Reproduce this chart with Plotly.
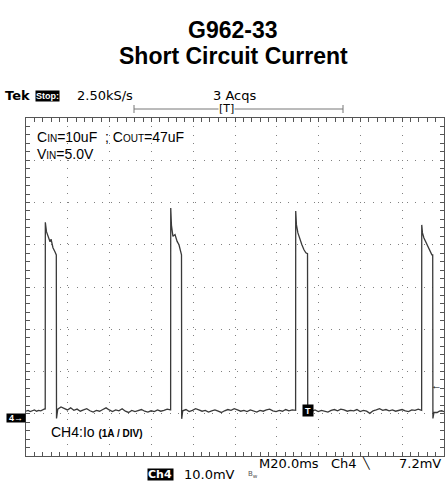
import numpy as np
import plotly.graph_objects as go

# ---------------- data (time in ms, current in A; 20 ms/div, 1 A/div) ----------------
x_range = [0.0, 200.0]
y_range = [-0.91, 7.09]
trigger_time = 134.8
trigger_mark_level = 0.17
trigger_level = 0.76

# baseline segments (start ms, end ms, sampled current values)
base0_span = [0.0, 9.1]
base0_vals = [0.15, 0.17, 0.14, 0.16, 0.18, 0.15, 0.17, 0.16, 0.19, 0.21]
base1_span = [15.2, 69.1]
base1_vals = [0.20, 0.25, 0.22, 0.18, 0.23, 0.17, 0.20, 0.15, 0.18, 0.21, 0.16, 0.13,
              0.17, 0.15, 0.19, 0.23, 0.18, 0.14, 0.18, 0.16, 0.21, 0.15, 0.12, 0.17,
              0.14, 0.16, 0.19, 0.15, 0.13, 0.16, 0.14, 0.18, 0.15, 0.17, 0.20, 0.18]
base2_span = [75.0, 128.9]
base2_vals = [0.16, 0.19, 0.14, 0.17, 0.21, 0.18, 0.15, 0.17, 0.13, 0.16, 0.18, 0.15,
              0.12, 0.16, 0.19, 0.17, 0.21, 0.18, 0.15, 0.17, 0.14, 0.18, 0.16, 0.13,
              0.17, 0.15, 0.18, 0.20, 0.16, 0.14, 0.17, 0.15, 0.19, 0.16, 0.18, 0.17]
base3_span = [135.2, 189.2]
base3_vals = [0.16, 0.15, 0.18, 0.14, 0.17, 0.15, 0.13, 0.17, 0.19, 0.16, 0.20, 0.18,
              0.15, 0.17, 0.16, 0.19, 0.14, 0.17, 0.15, 0.10, 0.16, 0.18, 0.21, 0.17,
              0.19, 0.16, 0.18, 0.15, 0.17, 0.19, 0.16, 0.14, 0.18, 0.17, 0.20, 0.17]
base4_span = [196.7, 200.0]
base4_vals = [0.12, 0.15, 0.16, 0.14]

# current pulses (short-circuit hiccup)
pulse1_t = [9.2, 9.25, 9.8, 10.5, 11.5, 12.0, 12.9, 13.9, 14.5, 14.6, 15.0]
pulse1_i = [0.19, 4.62, 4.40, 4.30, 4.16, 4.22, 4.02, 3.92, 3.85, -0.02, 0.12]
pulse2_t = [69.2, 69.25, 69.6, 70.3, 71.3, 72.3, 73.2, 74.4, 74.5, 74.9]
pulse2_i = [0.18, 4.96, 4.55, 4.29, 4.33, 4.17, 4.09, 3.85, -0.03, 0.12]
pulse3_t = [129.0, 129.05, 129.4, 130.1, 131.1, 132.0, 133.0, 133.9, 134.7, 134.8, 135.0]
pulse3_i = [0.17, 4.89, 4.56, 4.37, 4.21, 4.09, 3.97, 3.90, 3.88, 0.05, 0.14]
pulse4_t = [189.3, 189.35, 189.7, 190.4, 191.4, 192.3, 193.3, 194.2, 194.6, 194.7, 195.2]
pulse4_i = [0.17, 4.56, 4.37, 4.25, 4.14, 4.04, 3.97, 3.85, 3.85, -0.02, 0.12]


def seg(span, vals):
    return list(np.linspace(span[0], span[1], len(vals))), list(vals)


t_all, i_all = [], []
for tt, ii in [seg(base0_span, base0_vals), (pulse1_t, pulse1_i),
               seg(base1_span, base1_vals), (pulse2_t, pulse2_i),
               seg(base2_span, base2_vals), (pulse3_t, pulse3_i),
               seg(base3_span, base3_vals), (pulse4_t, pulse4_i),
               seg(base4_span, base4_vals)]:
    t_all += list(tt)
    i_all += list(ii)

# ---------------- figure ----------------
W, H = 445, 484
ML, MR, MT, MB = 26, 1, 118, 28
PW, PH = W - ML - MR, H - MT - MB


def px(x):
    return (x - ML) / PW


def py(y):
    return (H - MB - y) / PH


fig = go.Figure()
fig.add_trace(go.Scatter(x=t_all, y=i_all, mode="lines",
                         line=dict(color="#3a3a3a", width=1.3),
                         hoverinfo="skip", showlegend=False))

grid_col = "#808080"
tick_col = "#555"
fig.update_xaxes(range=x_range, tick0=0, dtick=20, showticklabels=False,
                 showgrid=True, gridcolor=grid_col, gridwidth=1,
                 griddash="1px,7.36px", zeroline=False,
                 showline=True, linecolor="#555", linewidth=1, mirror="allticks",
                 ticks="inside", ticklen=4, tickcolor=tick_col,
                 minor=dict(dtick=4, tick0=0, ticks="inside", ticklen=4,
                            tickcolor=tick_col, showgrid=False))
fig.update_yaxes(range=y_range, tick0=0.09, dtick=1, showticklabels=False,
                 showgrid=True, gridcolor=grid_col, gridwidth=1,
                 griddash="1px,7.46px", zeroline=False,
                 showline=True, linecolor="#555", linewidth=1, mirror="allticks",
                 ticks="inside", ticklen=4, tickcolor=tick_col,
                 minor=dict(dtick=0.2, tick0=0.09, ticks="inside", ticklen=4,
                            tickcolor=tick_col, showgrid=False))

ann = []
TF = "Liberation Sans, Arial, sans-serif"
SF = "DejaVu Sans, Verdana, sans-serif"


def A(text, x, y, size, font=TF, color="black", xanchor="left", bg=None, width=None, **kw):
    d = dict(text=text, x=px(x), y=py(y), xref="paper", yref="paper",
             xanchor=xanchor, yanchor="middle", showarrow=False,
             font=dict(family=font, size=size, color=color), borderpad=0)
    if bg:
        d["bgcolor"] = bg
    if width:
        d["width"] = width
        d["align"] = xanchor if xanchor != "center" else "center"
    d.update(kw)
    ann.append(d)


# titles
A("<b>G962-33</b>", 233, 30, 23, xanchor="center")
A("<b>Short Circuit Current</b>", 233, 56, 23, xanchor="center")

# scope header
A("<b>Tek</b>", 4, 95, 13, font=SF)
A("<b>Stop:</b>", 35, 96, 9, font=TF, color="white", bg="black")
A("2.50kS/s", 76, 95, 13, font=SF)
A("3 Acqs", 234, 95, 13, font=SF, xanchor="center")
A("[T]", 226, 109, 11, font=SF, xanchor="center", bg="white")

# in-plot labels
A("C<span style='font-size:10px'>IN</span>=10uF &nbsp;; C<span style='font-size:10px'>OUT</span>=47uF",
  36, 137, 14, font=TF)
A("V<span style='font-size:10px'>IN</span>=5.0V", 36, 154, 14, font=TF)
A("CH4:Io <b><span style='font-size:10px'>(1A / DIV)</span></b>", 50, 432, 14, font=TF, width=160)

# footer
A("M20.0ms", 258, 463, 13, font=SF)
A("Ch4", 330, 463, 13, font=SF)
A("\u2572", 361, 463, 11, font=SF)
A("7.2mV", 442, 463, 13, font=SF, xanchor="right")
A("<b>Ch4</b>", 147, 474, 11, font=SF, color="white", bg="black", width=25, height=11)
A("10.0mV", 183, 474, 13, font=SF)
A("<span style='font-size:7px'>B</span><sub>w</sub>", 247, 474, 8, font=SF, color="#555")

# ground marker, trigger marker, trigger level
ann.append(dict(text="<b>4\u2192</b>", x=0, y=0, xref="paper", yref="y",
                xanchor="right", yanchor="middle", showarrow=False,
                bgcolor="black", borderpad=0, width=18, height=8,
                font=dict(family=TF, size=9, color="white")))
ann.append(dict(text="<b>T</b>", x=trigger_time, y=trigger_mark_level, xref="x", yref="y",
                xanchor="center", yanchor="middle", showarrow=False,
                bgcolor="black", borderpad=0, width=10, height=11,
                font=dict(family=TF, size=9, color="white")))
ann.append(dict(text="\u2190", x=1, y=trigger_level, xref="paper", yref="y",
                xanchor="right", yanchor="middle", showarrow=False,
                font=dict(family=TF, size=11, color="black")))

shapes = [
    dict(type="line", xref="paper", yref="paper", x0=px(134), x1=px(343),
         y0=py(109), y1=py(109), line=dict(color="#777", width=1), layer="below"),
    dict(type="line", xref="paper", yref="paper", x0=px(134), x1=px(134),
         y0=py(105), y1=py(113), line=dict(color="#777", width=1)),
    dict(type="line", xref="paper", yref="paper", x0=px(343), x1=px(343),
         y0=py(105), y1=py(113), line=dict(color="#777", width=1)),
]

fig.update_layout(width=W, height=H, margin=dict(l=ML, r=MR, t=MT, b=MB),
                  paper_bgcolor="white", plot_bgcolor="white",
                  annotations=ann, shapes=shapes, showlegend=False)

fig.write_html("out.html", config={"displayModeBar": False},
               post_script="document.body.style.margin='0';document.body.style.overflow='hidden';")
